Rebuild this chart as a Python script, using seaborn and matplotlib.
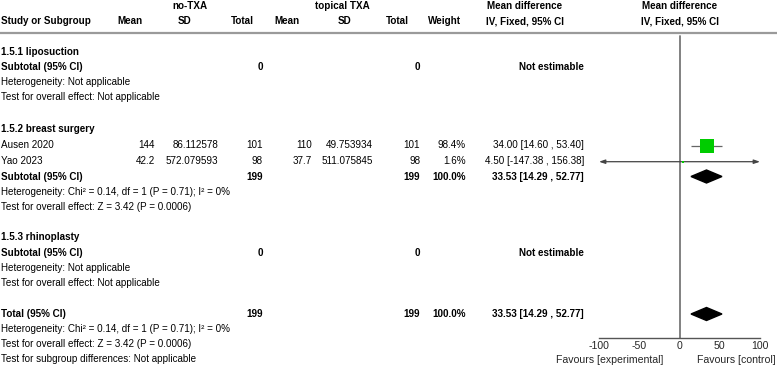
import seaborn as sns
import matplotlib.pyplot as plt
import numpy as np
import pandas as pd

# 数据
studies = ['Ausen 2020', 'Yao 2023']
mean_ctrl = [144, 42.2]
sd_ctrl = [86.112578, 572.079593]
n_ctrl = [101, 98]
mean_txa = [110, 37.7]
sd_txa = [49.753934, 511.075845]
n_txa = [101, 98]
weights = [98.4, 1.6]
md = [34.00, 4.50]
ci_lo = [14.60, -147.38]
ci_hi = [53.40, 156.38]

pooled_md = 33.53
pooled_lo = 14.29
pooled_hi = 52.77
pooled_n = 199

ticks = [-100, -50, 0, 50, 100]

sns.set_style("white")
plt.rcParams['font.family'] = ['Liberation Sans', 'DejaVu Sans']

W, H = 777, 367
fig = plt.figure(figsize=(W / 100, H / 100), dpi=100)

# 背景坐标轴（像素坐标）
bg = fig.add_axes([0, 0, 1, 1])
bg.set_xlim(0, W)
bg.set_ylim(H, 0)
bg.axis('off')

FS = 7.1
# 每一行的像素位置
ROW_Y = {0: 51.7, 1: 66.7, 2: 81.7, 3: 96.9, 5: 129.3, 6: 145.0, 7: 160.7,
         8: 176.5, 9: 191.8, 10: 207.0, 12: 236.9, 13: 252.5, 14: 268.0,
         15: 283.3, 17: 314.0, 18: 329.3, 19: 344.3, 20: 359.3}


def row(r):
    return ROW_Y[r]


def txt(x, r, s, ha='left', bold=False, y=None):
    yy = row(r) if y is None else y
    bg.text(x, yy, s, ha=ha, va='center', fontsize=FS,
            fontweight='bold' if bold else 'normal', color='black')


# 列右边界
X_MC, X_SC, X_NC = 155, 218, 263
X_ME, X_SE, X_NE = 312, 373, 420
X_W, X_CI = 466, 584

# 表头
hy1, hy2 = 6, 21
txt(190, 0, 'no-TXA', ha='center', bold=True, y=hy1)
txt(342, 0, 'topical TXA', ha='center', bold=True, y=hy1)
txt(525, 0, 'Mean difference', ha='center', bold=True, y=hy1)
txt(680, 0, 'Mean difference', ha='center', bold=True, y=hy1)
txt(1, 0, 'Study or Subgroup', bold=True, y=hy2)
txt(130, 0, 'Mean', ha='center', bold=True, y=hy2)
txt(185, 0, 'SD', ha='center', bold=True, y=hy2)
txt(242, 0, 'Total', ha='center', bold=True, y=hy2)
txt(287, 0, 'Mean', ha='center', bold=True, y=hy2)
txt(345, 0, 'SD', ha='center', bold=True, y=hy2)
txt(397, 0, 'Total', ha='center', bold=True, y=hy2)
txt(444, 0, 'Weight', ha='center', bold=True, y=hy2)
txt(525, 0, 'IV, Fixed, 95% CI', ha='center', bold=True, y=hy2)
txt(680, 0, 'IV, Fixed, 95% CI', ha='center', bold=True, y=hy2)
bg.plot([0, W], [33, 33], color='#9a9a9a', lw=1.6)


def empty_group(r, name):
    txt(1, r, name, bold=True)
    txt(1, r + 1, 'Subtotal (95% CI)', bold=True)
    txt(X_NC, r + 1, '0', ha='right', bold=True)
    txt(X_NE, r + 1, '0', ha='right', bold=True)
    txt(X_CI, r + 1, 'Not estimable', ha='right', bold=True)
    txt(1, r + 2, 'Heterogeneity: Not applicable')
    txt(1, r + 3, 'Test for overall effect: Not applicable')


het = 'Heterogeneity: Chi² = 0.14, df = 1 (P = 0.71); I² = 0%'
zt = 'Test for overall effect: Z = 3.42 (P = 0.0006)'
pooled_txt = f'{pooled_md:.2f} [{pooled_lo:.2f} , {pooled_hi:.2f}]'

empty_group(0, '1.5.1 liposuction')

txt(1, 5, '1.5.2 breast surgery', bold=True)
study_rows = [6, 7]
for i, r in enumerate(study_rows):
    txt(1, r, studies[i])
    txt(X_MC, r, f'{mean_ctrl[i]:g}', ha='right')
    txt(X_SC, r, f'{sd_ctrl[i]:.6f}', ha='right')
    txt(X_NC, r, str(n_ctrl[i]), ha='right')
    txt(X_ME, r, f'{mean_txa[i]:g}', ha='right')
    txt(X_SE, r, f'{sd_txa[i]:.6f}', ha='right')
    txt(X_NE, r, str(n_txa[i]), ha='right')
    txt(X_W, r, f'{weights[i]:.1f}%', ha='right')
    txt(X_CI, r, f'{md[i]:.2f} [{ci_lo[i]:.2f} , {ci_hi[i]:.2f}]', ha='right')

txt(1, 8, 'Subtotal (95% CI)', bold=True)
txt(X_NC, 8, str(pooled_n), ha='right', bold=True)
txt(X_NE, 8, str(pooled_n), ha='right', bold=True)
txt(X_W, 8, '100.0%', ha='right', bold=True)
txt(X_CI, 8, pooled_txt, ha='right', bold=True)
txt(1, 9, het)
txt(1, 10, zt)

empty_group(12, '1.5.3 rhinoplasty')

txt(1, 17, 'Total (95% CI)', bold=True)
txt(X_NC, 17, str(pooled_n), ha='right', bold=True)
txt(X_NE, 17, str(pooled_n), ha='right', bold=True)
txt(X_W, 17, '100.0%', ha='right', bold=True)
txt(X_CI, 17, pooled_txt, ha='right', bold=True)
txt(1, 18, het)
txt(1, 19, zt)
txt(1, 20, 'Test for subgroup differences: Not applicable')

# 森林图坐标轴
FX0, FX1, FY_TOP, FY_BOT = 599, 760, 33, 338
ax = fig.add_axes([FX0 / W, (H - FY_BOT) / H, (FX1 - FX0) / W, (FY_BOT - FY_TOP) / H])
ax.set_facecolor('none')
XMIN, XMAX = ticks[0], ticks[-1]
ax.set_xlim(XMIN, XMAX)
ax.set_ylim(FY_BOT, FY_TOP)
for s in ['top', 'left', 'right']:
    ax.spines[s].set_visible(False)
ax.spines['bottom'].set_color('#555555')
ax.spines['bottom'].set_linewidth(1.0)
ax.set_yticks([])
ax.set_xticks(ticks)
ax.set_xticklabels([str(t) for t in ticks])
ax.tick_params(axis='x', direction='in', length=4, width=1.0, color='#555555',
               labelsize=7.6, pad=2)
ax.axvline(0, ymin=0, ymax=0.99, color='#777777', lw=1.3, zorder=1)

ys = [row(r) + 1 for r in study_rows]
for i, y in enumerate(ys):
    lo_c = max(ci_lo[i], XMIN)
    hi_c = min(ci_hi[i], XMAX)
    if ci_lo[i] < XMIN or ci_hi[i] > XMAX:
        ax.annotate('', xy=(lo_c, y), xytext=(hi_c, y), annotation_clip=False,
                    arrowprops=dict(arrowstyle='<|-|>,head_length=0.35,head_width=0.12',
                                    color='#444444', lw=0.9, shrinkA=0, shrinkB=0))
    else:
        ax.hlines(y, lo_c, hi_c, color='#666666', lw=0.9, zorder=2)

df = pd.DataFrame({'md': md, 'y': ys, 'weight': weights})
sns.scatterplot(data=df, x='md', y='y', size='weight', sizes=(0, 95),
                size_norm=(0, max(weights)), marker='s', color='#00cc00',
                edgecolor='none', linewidth=0, legend=False, ax=ax, zorder=3,
                clip_on=False)
ax.set_xlabel('')
ax.set_ylabel('')

for r in [8, 17]:
    y = row(r)
    h = 6.5
    ax.fill([pooled_lo, pooled_md, pooled_hi, pooled_md],
            [y, y - h, y, y + h], color='black', zorder=3)

bg.text(663, 360, 'Favours [experimental]', ha='right', va='center', fontsize=7.6)
bg.text(776, 360, 'Favours [control]', ha='right', va='center', fontsize=7.6)

plt.savefig('out.png', dpi=100)
